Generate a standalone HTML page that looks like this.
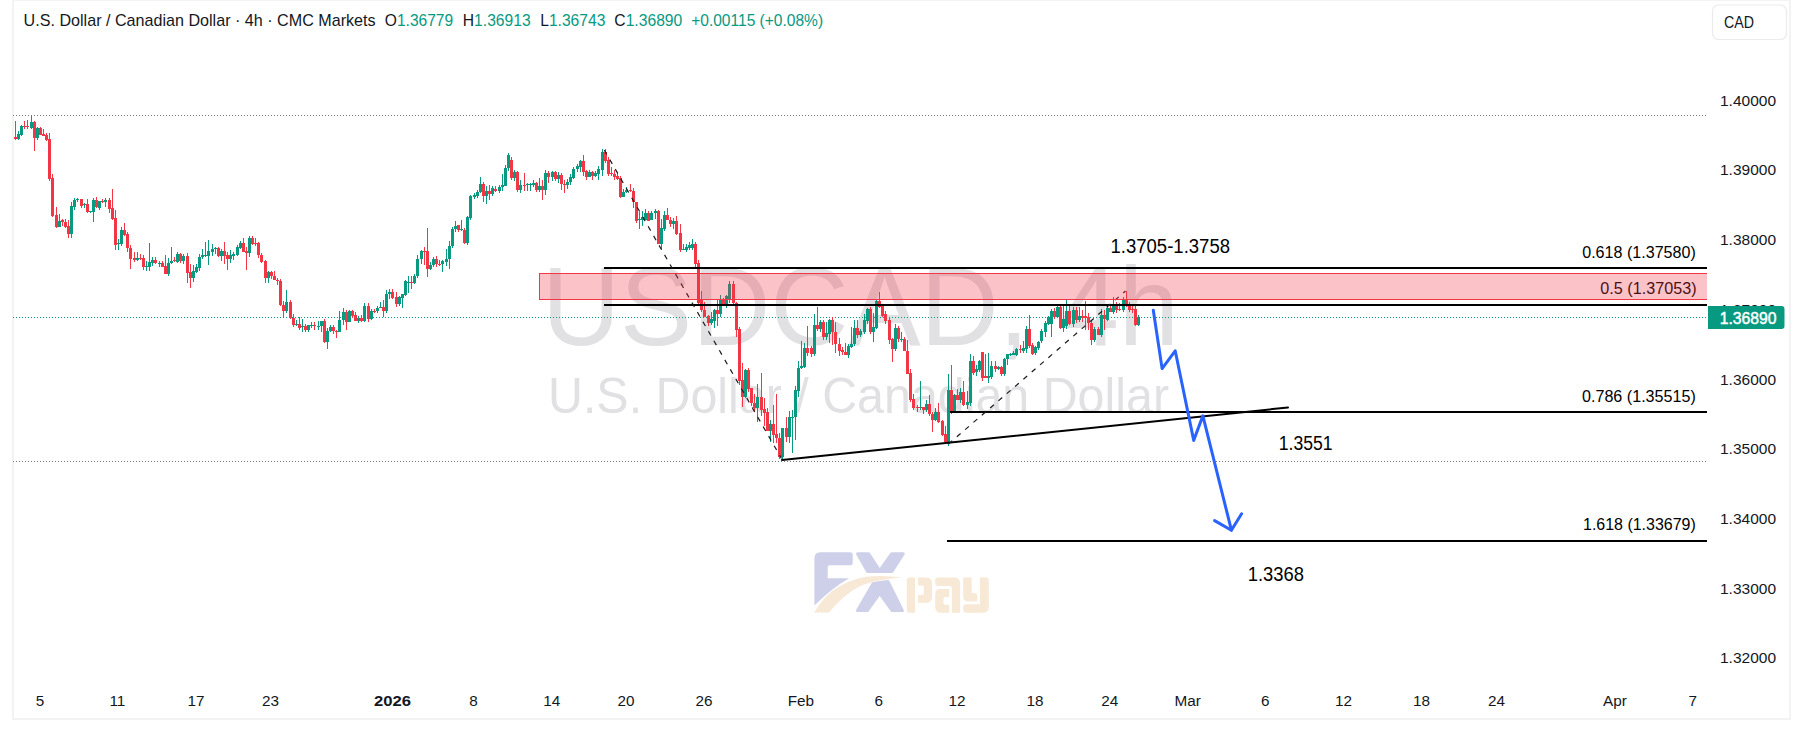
<!DOCTYPE html>
<html><head><meta charset="utf-8">
<style>
html,body{margin:0;padding:0;background:#fff;width:1803px;height:732px;overflow:hidden;}
.frame{position:absolute;left:12px;top:-1px;width:1775px;height:717px;border:2px solid #f3f3f3;}
svg{position:absolute;left:0;top:0;}
</style></head><body>
<div class="frame"></div>
<svg width="1803" height="732" viewBox="0 0 1803 732">
<g>
<path d="M814.4 605.4 V558.2 Q814.4 552.2 820.4 552.2 H850.2 Q852.7 552.2 852.7 554.7 V562.7 Q852.7 565.2 850.2 565.2 H829.7 Q827.7 565.2 827.7 567.2 V578.2 H849 Q832 588 814.4 605.4 Z" fill="#CED0EA"/>
<path d="M857.5 553.7 H868.7 L879.7 570.5 L891.7 553.7 H903.3 L891.8 571.6 Q880 571.2 867.6 571.6 Z" fill="#CED0EA" stroke="#CED0EA" stroke-width="3" stroke-linejoin="round"/>
<path d="M873 583.8 Q880 582.2 888 581.5 L902.4 610.6 H892.1 L879.7 593.3 L867.3 610.6 H857.5 Z" fill="#CED0EA" stroke="#CED0EA" stroke-width="3" stroke-linejoin="round"/>
<path d="M814.2 612.5 Q822 599 833 590.5 Q848 580 866 576.8 Q885 574.8 902 577.6 Q886 578.6 866 583.8 Q848 590 829 612.5 Z" fill="#F8E8D6"/>
<path d="M906.8 580.5 Q906.8 577.5 909.8 577.5 H915 V612.7 H909.8 Q906.8 612.7 906.8 609.7 Z" fill="#F8E8D6"/>
<path d="M918.1 577.5 H926.1 Q932.1 577.5 932.1 583.5 V596.8 Q932.1 602.8 926.1 602.8 H918.1 V594.9 H921.9 Q923.9 594.9 923.9 592.9 V587.4 Q923.9 585.4 921.9 585.4 H918.1 Z" fill="#F8E8D6"/>
<path d="M935.2 580 Q935.2 577.5 937.7 577.5 H954.1 Q960.1 577.5 960.1 583.5 V612.7 H951.9 V588.1 Q951.9 586.1 949.9 586.1 H937.7 Q935.2 586.1 935.2 583.6 Z" fill="#F8E8D6"/>
<path d="M940.2 589.1 H949.2 V597 H945.4 Q943.4 597 943.4 599 V602.8 Q943.4 604.8 945.4 604.8 H949.2 V612.7 H941.2 Q935.2 612.7 935.2 606.7 V594.1 Q935.2 589.1 940.2 589.1 Z" fill="#F8E8D6"/>
<path d="M963.2 577.5 H971.7 V593.2 H975.2 Q977.2 593.2 977.2 595.2 V601.4 H968.2 Q963.2 601.4 963.2 596.4 Z" fill="#F8E8D6"/>
<path d="M979.9 577.5 H985.8 Q988.8 577.5 988.8 580.5 V606.7 Q988.8 612.7 982.8 612.7 H966.2 Q963.2 612.7 963.2 609.7 V607.2 Q963.2 604.2 966.2 604.2 H979.9 Z" fill="#F8E8D6"/>
</g>
<g font-family="Liberation Sans, sans-serif" fill="#dcdde1">
<text x="542" y="345" font-size="112" fill="#e1e1e4" text-anchor="start" textLength="637" lengthAdjust="spacingAndGlyphs" >USDCAD, 4h</text>
<text x="548" y="413" font-size="50" fill="#e1e1e4" text-anchor="start" textLength="621" lengthAdjust="spacingAndGlyphs" >U.S. Dollar / Canadian Dollar</text>
</g>
<line x1="13" y1="115.5" x2="1706" y2="115.5" stroke="#7a7a7a" stroke-width="1" stroke-dasharray="1 2"/>
<line x1="13" y1="461.5" x2="1706" y2="461.5" stroke="#7a7a7a" stroke-width="1" stroke-dasharray="1 2"/>
<line x1="13" y1="317.5" x2="1706" y2="317.5" stroke="#089981" stroke-width="1" stroke-dasharray="1 2"/>
<g shape-rendering="auto"><rect x="15" y="121" width="1" height="19" fill="#F23645"/>
<rect x="14" y="137" width="3" height="2" fill="#F23645"/>
<rect x="18" y="131" width="1" height="9" fill="#089981"/>
<rect x="17" y="134" width="3" height="5" fill="#089981"/>
<rect x="21" y="125" width="1" height="11" fill="#089981"/>
<rect x="20" y="126" width="3" height="9" fill="#089981"/>
<rect x="24" y="121" width="1" height="8" fill="#F23645"/>
<rect x="23" y="126" width="3" height="1" fill="#F23645"/>
<rect x="27" y="120" width="1" height="9" fill="#F23645"/>
<rect x="26" y="126" width="3" height="1" fill="#F23645"/>
<rect x="31" y="116" width="1" height="13" fill="#089981"/>
<rect x="30" y="122" width="3" height="6" fill="#089981"/>
<rect x="34" y="121" width="1" height="30" fill="#F23645"/>
<rect x="33" y="122" width="3" height="16" fill="#F23645"/>
<rect x="37" y="127" width="1" height="13" fill="#089981"/>
<rect x="36" y="128" width="3" height="10" fill="#089981"/>
<rect x="40" y="127" width="1" height="8" fill="#F23645"/>
<rect x="39" y="128" width="3" height="7" fill="#F23645"/>
<rect x="43" y="129" width="1" height="7" fill="#F23645"/>
<rect x="42" y="134" width="3" height="2" fill="#F23645"/>
<rect x="46" y="133" width="1" height="8" fill="#F23645"/>
<rect x="45" y="135" width="3" height="5" fill="#F23645"/>
<rect x="49" y="133" width="1" height="48" fill="#F23645"/>
<rect x="48" y="139" width="3" height="40" fill="#F23645"/>
<rect x="52" y="174" width="1" height="43" fill="#F23645"/>
<rect x="51" y="178" width="3" height="38" fill="#F23645"/>
<rect x="56" y="207" width="1" height="21" fill="#F23645"/>
<rect x="55" y="215" width="3" height="12" fill="#F23645"/>
<rect x="59" y="214" width="1" height="13" fill="#089981"/>
<rect x="58" y="221" width="3" height="6" fill="#089981"/>
<rect x="62" y="219" width="1" height="7" fill="#F23645"/>
<rect x="61" y="220" width="3" height="2" fill="#F23645"/>
<rect x="65" y="219" width="1" height="9" fill="#F23645"/>
<rect x="64" y="222" width="3" height="5" fill="#F23645"/>
<rect x="68" y="220" width="1" height="18" fill="#F23645"/>
<rect x="67" y="226" width="3" height="8" fill="#F23645"/>
<rect x="71" y="202" width="1" height="36" fill="#089981"/>
<rect x="70" y="206" width="3" height="28" fill="#089981"/>
<rect x="74" y="198" width="1" height="12" fill="#089981"/>
<rect x="73" y="200" width="3" height="7" fill="#089981"/>
<rect x="77" y="198" width="1" height="4" fill="#089981"/>
<rect x="76" y="199" width="3" height="1" fill="#089981"/>
<rect x="81" y="199" width="1" height="9" fill="#F23645"/>
<rect x="80" y="199" width="3" height="7" fill="#F23645"/>
<rect x="84" y="203" width="1" height="5" fill="#089981"/>
<rect x="83" y="204" width="3" height="1" fill="#089981"/>
<rect x="87" y="199" width="1" height="14" fill="#F23645"/>
<rect x="86" y="204" width="3" height="8" fill="#F23645"/>
<rect x="90" y="211" width="1" height="2" fill="#089981"/>
<rect x="89" y="211" width="3" height="1" fill="#089981"/>
<rect x="93" y="198" width="1" height="24" fill="#089981"/>
<rect x="92" y="200" width="3" height="12" fill="#089981"/>
<rect x="96" y="197" width="1" height="11" fill="#F23645"/>
<rect x="95" y="200" width="3" height="7" fill="#F23645"/>
<rect x="99" y="201" width="1" height="9" fill="#089981"/>
<rect x="98" y="201" width="3" height="7" fill="#089981"/>
<rect x="102" y="199" width="1" height="4" fill="#F23645"/>
<rect x="101" y="201" width="3" height="1" fill="#F23645"/>
<rect x="105" y="198" width="1" height="9" fill="#089981"/>
<rect x="104" y="200" width="3" height="2" fill="#089981"/>
<rect x="109" y="198" width="1" height="15" fill="#F23645"/>
<rect x="108" y="200" width="3" height="9" fill="#F23645"/>
<rect x="112" y="189" width="1" height="31" fill="#F23645"/>
<rect x="111" y="208" width="3" height="11" fill="#F23645"/>
<rect x="115" y="210" width="1" height="40" fill="#F23645"/>
<rect x="114" y="218" width="3" height="27" fill="#F23645"/>
<rect x="118" y="239" width="1" height="11" fill="#089981"/>
<rect x="117" y="243" width="3" height="1" fill="#089981"/>
<rect x="121" y="227" width="1" height="19" fill="#089981"/>
<rect x="120" y="230" width="3" height="14" fill="#089981"/>
<rect x="124" y="223" width="1" height="13" fill="#F23645"/>
<rect x="123" y="230" width="3" height="5" fill="#F23645"/>
<rect x="127" y="232" width="1" height="20" fill="#F23645"/>
<rect x="126" y="234" width="3" height="14" fill="#F23645"/>
<rect x="130" y="245" width="1" height="24" fill="#F23645"/>
<rect x="129" y="248" width="3" height="11" fill="#F23645"/>
<rect x="134" y="252" width="1" height="10" fill="#F23645"/>
<rect x="133" y="258" width="3" height="2" fill="#F23645"/>
<rect x="137" y="252" width="1" height="9" fill="#089981"/>
<rect x="136" y="258" width="3" height="2" fill="#089981"/>
<rect x="140" y="254" width="1" height="6" fill="#F23645"/>
<rect x="139" y="258" width="3" height="1" fill="#F23645"/>
<rect x="143" y="255" width="1" height="15" fill="#F23645"/>
<rect x="142" y="258" width="3" height="9" fill="#F23645"/>
<rect x="146" y="261" width="1" height="10" fill="#089981"/>
<rect x="145" y="266" width="3" height="1" fill="#089981"/>
<rect x="149" y="243" width="1" height="28" fill="#089981"/>
<rect x="148" y="262" width="3" height="5" fill="#089981"/>
<rect x="152" y="257" width="1" height="9" fill="#089981"/>
<rect x="151" y="260" width="3" height="3" fill="#089981"/>
<rect x="155" y="257" width="1" height="7" fill="#F23645"/>
<rect x="154" y="260" width="3" height="3" fill="#F23645"/>
<rect x="159" y="261" width="1" height="6" fill="#089981"/>
<rect x="158" y="263" width="3" height="1" fill="#089981"/>
<rect x="162" y="261" width="1" height="6" fill="#F23645"/>
<rect x="161" y="263" width="3" height="4" fill="#F23645"/>
<rect x="165" y="255" width="1" height="19" fill="#F23645"/>
<rect x="164" y="266" width="3" height="8" fill="#F23645"/>
<rect x="168" y="258" width="1" height="18" fill="#089981"/>
<rect x="167" y="263" width="3" height="11" fill="#089981"/>
<rect x="171" y="247" width="1" height="17" fill="#089981"/>
<rect x="170" y="261" width="3" height="2" fill="#089981"/>
<rect x="174" y="257" width="1" height="5" fill="#F23645"/>
<rect x="173" y="260" width="3" height="1" fill="#F23645"/>
<rect x="177" y="252" width="1" height="11" fill="#089981"/>
<rect x="176" y="254" width="3" height="8" fill="#089981"/>
<rect x="180" y="253" width="1" height="10" fill="#F23645"/>
<rect x="179" y="254" width="3" height="7" fill="#F23645"/>
<rect x="183" y="254" width="1" height="10" fill="#089981"/>
<rect x="182" y="256" width="3" height="5" fill="#089981"/>
<rect x="187" y="253" width="1" height="30" fill="#F23645"/>
<rect x="186" y="256" width="3" height="17" fill="#F23645"/>
<rect x="190" y="264" width="1" height="24" fill="#F23645"/>
<rect x="189" y="272" width="3" height="6" fill="#F23645"/>
<rect x="193" y="265" width="1" height="17" fill="#089981"/>
<rect x="192" y="271" width="3" height="7" fill="#089981"/>
<rect x="196" y="264" width="1" height="9" fill="#089981"/>
<rect x="195" y="267" width="3" height="5" fill="#089981"/>
<rect x="199" y="254" width="1" height="17" fill="#089981"/>
<rect x="198" y="257" width="3" height="11" fill="#089981"/>
<rect x="202" y="249" width="1" height="10" fill="#089981"/>
<rect x="201" y="255" width="3" height="2" fill="#089981"/>
<rect x="205" y="242" width="1" height="15" fill="#089981"/>
<rect x="204" y="255" width="3" height="1" fill="#089981"/>
<rect x="208" y="240" width="1" height="25" fill="#089981"/>
<rect x="207" y="251" width="3" height="5" fill="#089981"/>
<rect x="212" y="244" width="1" height="12" fill="#089981"/>
<rect x="211" y="249" width="3" height="3" fill="#089981"/>
<rect x="215" y="247" width="1" height="7" fill="#089981"/>
<rect x="214" y="248" width="3" height="1" fill="#089981"/>
<rect x="218" y="247" width="1" height="10" fill="#F23645"/>
<rect x="217" y="248" width="3" height="8" fill="#F23645"/>
<rect x="221" y="249" width="1" height="12" fill="#089981"/>
<rect x="220" y="251" width="3" height="5" fill="#089981"/>
<rect x="224" y="242" width="1" height="22" fill="#F23645"/>
<rect x="223" y="251" width="3" height="5" fill="#F23645"/>
<rect x="227" y="252" width="1" height="18" fill="#F23645"/>
<rect x="226" y="255" width="3" height="4" fill="#F23645"/>
<rect x="230" y="250" width="1" height="13" fill="#089981"/>
<rect x="229" y="255" width="3" height="4" fill="#089981"/>
<rect x="233" y="252" width="1" height="8" fill="#089981"/>
<rect x="232" y="254" width="3" height="2" fill="#089981"/>
<rect x="237" y="245" width="1" height="11" fill="#089981"/>
<rect x="236" y="247" width="3" height="8" fill="#089981"/>
<rect x="240" y="241" width="1" height="8" fill="#089981"/>
<rect x="239" y="243" width="3" height="5" fill="#089981"/>
<rect x="243" y="238" width="1" height="14" fill="#F23645"/>
<rect x="242" y="243" width="3" height="9" fill="#F23645"/>
<rect x="246" y="247" width="1" height="23" fill="#F23645"/>
<rect x="245" y="251" width="3" height="2" fill="#F23645"/>
<rect x="249" y="236" width="1" height="21" fill="#089981"/>
<rect x="248" y="238" width="3" height="15" fill="#089981"/>
<rect x="252" y="236" width="1" height="9" fill="#F23645"/>
<rect x="251" y="238" width="3" height="6" fill="#F23645"/>
<rect x="255" y="238" width="1" height="8" fill="#F23645"/>
<rect x="254" y="243" width="3" height="1" fill="#F23645"/>
<rect x="258" y="242" width="1" height="16" fill="#F23645"/>
<rect x="257" y="243" width="3" height="12" fill="#F23645"/>
<rect x="261" y="253" width="1" height="10" fill="#F23645"/>
<rect x="260" y="255" width="3" height="7" fill="#F23645"/>
<rect x="265" y="260" width="1" height="23" fill="#F23645"/>
<rect x="264" y="261" width="3" height="17" fill="#F23645"/>
<rect x="268" y="271" width="1" height="12" fill="#089981"/>
<rect x="267" y="272" width="3" height="6" fill="#089981"/>
<rect x="271" y="271" width="1" height="8" fill="#F23645"/>
<rect x="270" y="272" width="3" height="4" fill="#F23645"/>
<rect x="274" y="271" width="1" height="9" fill="#F23645"/>
<rect x="273" y="276" width="3" height="4" fill="#F23645"/>
<rect x="277" y="278" width="1" height="7" fill="#F23645"/>
<rect x="276" y="280" width="3" height="1" fill="#F23645"/>
<rect x="280" y="279" width="1" height="27" fill="#F23645"/>
<rect x="279" y="281" width="3" height="24" fill="#F23645"/>
<rect x="283" y="301" width="1" height="16" fill="#F23645"/>
<rect x="282" y="305" width="3" height="6" fill="#F23645"/>
<rect x="286" y="290" width="1" height="23" fill="#089981"/>
<rect x="285" y="302" width="3" height="9" fill="#089981"/>
<rect x="290" y="300" width="1" height="19" fill="#F23645"/>
<rect x="289" y="302" width="3" height="16" fill="#F23645"/>
<rect x="293" y="314" width="1" height="13" fill="#F23645"/>
<rect x="292" y="318" width="3" height="7" fill="#F23645"/>
<rect x="296" y="320" width="1" height="6" fill="#089981"/>
<rect x="295" y="324" width="3" height="1" fill="#089981"/>
<rect x="299" y="317" width="1" height="13" fill="#F23645"/>
<rect x="298" y="324" width="3" height="4" fill="#F23645"/>
<rect x="302" y="319" width="1" height="13" fill="#089981"/>
<rect x="301" y="326" width="3" height="1" fill="#089981"/>
<rect x="305" y="324" width="1" height="8" fill="#F23645"/>
<rect x="304" y="326" width="3" height="4" fill="#F23645"/>
<rect x="308" y="325" width="1" height="7" fill="#089981"/>
<rect x="307" y="325" width="3" height="5" fill="#089981"/>
<rect x="311" y="322" width="1" height="6" fill="#089981"/>
<rect x="310" y="325" width="3" height="1" fill="#089981"/>
<rect x="314" y="322" width="1" height="8" fill="#F23645"/>
<rect x="313" y="325" width="3" height="1" fill="#F23645"/>
<rect x="318" y="321" width="1" height="9" fill="#089981"/>
<rect x="317" y="326" width="3" height="1" fill="#089981"/>
<rect x="321" y="321" width="1" height="11" fill="#089981"/>
<rect x="320" y="321" width="3" height="5" fill="#089981"/>
<rect x="324" y="319" width="1" height="24" fill="#F23645"/>
<rect x="323" y="321" width="3" height="21" fill="#F23645"/>
<rect x="327" y="328" width="1" height="21" fill="#089981"/>
<rect x="326" y="331" width="3" height="11" fill="#089981"/>
<rect x="330" y="325" width="1" height="7" fill="#089981"/>
<rect x="329" y="327" width="3" height="4" fill="#089981"/>
<rect x="333" y="325" width="1" height="9" fill="#F23645"/>
<rect x="332" y="327" width="3" height="4" fill="#F23645"/>
<rect x="336" y="330" width="1" height="8" fill="#F23645"/>
<rect x="335" y="331" width="3" height="1" fill="#F23645"/>
<rect x="339" y="311" width="1" height="21" fill="#089981"/>
<rect x="338" y="320" width="3" height="12" fill="#089981"/>
<rect x="343" y="308" width="1" height="17" fill="#089981"/>
<rect x="342" y="312" width="3" height="8" fill="#089981"/>
<rect x="346" y="310" width="1" height="20" fill="#F23645"/>
<rect x="345" y="312" width="3" height="10" fill="#F23645"/>
<rect x="349" y="310" width="1" height="12" fill="#089981"/>
<rect x="348" y="311" width="3" height="11" fill="#089981"/>
<rect x="352" y="310" width="1" height="8" fill="#F23645"/>
<rect x="351" y="311" width="3" height="5" fill="#F23645"/>
<rect x="355" y="312" width="1" height="9" fill="#F23645"/>
<rect x="354" y="315" width="3" height="6" fill="#F23645"/>
<rect x="358" y="316" width="1" height="7" fill="#089981"/>
<rect x="357" y="318" width="3" height="3" fill="#089981"/>
<rect x="361" y="315" width="1" height="7" fill="#F23645"/>
<rect x="360" y="318" width="3" height="3" fill="#F23645"/>
<rect x="364" y="303" width="1" height="19" fill="#089981"/>
<rect x="363" y="306" width="3" height="15" fill="#089981"/>
<rect x="368" y="303" width="1" height="19" fill="#F23645"/>
<rect x="367" y="306" width="3" height="13" fill="#F23645"/>
<rect x="371" y="309" width="1" height="11" fill="#089981"/>
<rect x="370" y="311" width="3" height="8" fill="#089981"/>
<rect x="374" y="309" width="1" height="4" fill="#F23645"/>
<rect x="373" y="311" width="3" height="1" fill="#F23645"/>
<rect x="377" y="306" width="1" height="7" fill="#089981"/>
<rect x="376" y="308" width="3" height="3" fill="#089981"/>
<rect x="380" y="302" width="1" height="6" fill="#089981"/>
<rect x="379" y="307" width="3" height="1" fill="#089981"/>
<rect x="383" y="300" width="1" height="17" fill="#F23645"/>
<rect x="382" y="307" width="3" height="4" fill="#F23645"/>
<rect x="386" y="290" width="1" height="23" fill="#089981"/>
<rect x="385" y="294" width="3" height="17" fill="#089981"/>
<rect x="389" y="289" width="1" height="10" fill="#089981"/>
<rect x="388" y="292" width="3" height="2" fill="#089981"/>
<rect x="392" y="289" width="1" height="10" fill="#F23645"/>
<rect x="391" y="292" width="3" height="6" fill="#F23645"/>
<rect x="396" y="292" width="1" height="15" fill="#F23645"/>
<rect x="395" y="297" width="3" height="7" fill="#F23645"/>
<rect x="399" y="296" width="1" height="10" fill="#089981"/>
<rect x="398" y="297" width="3" height="7" fill="#089981"/>
<rect x="402" y="294" width="1" height="14" fill="#089981"/>
<rect x="401" y="294" width="3" height="4" fill="#089981"/>
<rect x="405" y="280" width="1" height="16" fill="#089981"/>
<rect x="404" y="281" width="3" height="14" fill="#089981"/>
<rect x="408" y="276" width="1" height="17" fill="#089981"/>
<rect x="407" y="282" width="3" height="1" fill="#089981"/>
<rect x="411" y="276" width="1" height="13" fill="#F23645"/>
<rect x="410" y="282" width="3" height="1" fill="#F23645"/>
<rect x="414" y="274" width="1" height="10" fill="#089981"/>
<rect x="413" y="276" width="3" height="7" fill="#089981"/>
<rect x="417" y="255" width="1" height="23" fill="#089981"/>
<rect x="416" y="259" width="3" height="17" fill="#089981"/>
<rect x="421" y="250" width="1" height="14" fill="#089981"/>
<rect x="420" y="251" width="3" height="8" fill="#089981"/>
<rect x="424" y="247" width="1" height="18" fill="#F23645"/>
<rect x="423" y="251" width="3" height="1" fill="#F23645"/>
<rect x="427" y="228" width="1" height="49" fill="#F23645"/>
<rect x="426" y="251" width="3" height="18" fill="#F23645"/>
<rect x="430" y="262" width="1" height="8" fill="#089981"/>
<rect x="429" y="265" width="3" height="4" fill="#089981"/>
<rect x="433" y="257" width="1" height="10" fill="#089981"/>
<rect x="432" y="259" width="3" height="6" fill="#089981"/>
<rect x="436" y="256" width="1" height="11" fill="#F23645"/>
<rect x="435" y="259" width="3" height="5" fill="#F23645"/>
<rect x="439" y="260" width="1" height="6" fill="#F23645"/>
<rect x="438" y="264" width="3" height="1" fill="#F23645"/>
<rect x="442" y="260" width="1" height="12" fill="#089981"/>
<rect x="441" y="261" width="3" height="3" fill="#089981"/>
<rect x="446" y="249" width="1" height="17" fill="#089981"/>
<rect x="445" y="259" width="3" height="3" fill="#089981"/>
<rect x="449" y="241" width="1" height="28" fill="#089981"/>
<rect x="448" y="246" width="3" height="13" fill="#089981"/>
<rect x="452" y="227" width="1" height="21" fill="#089981"/>
<rect x="451" y="229" width="3" height="17" fill="#089981"/>
<rect x="455" y="221" width="1" height="11" fill="#089981"/>
<rect x="454" y="226" width="3" height="3" fill="#089981"/>
<rect x="458" y="225" width="1" height="7" fill="#F23645"/>
<rect x="457" y="225" width="3" height="5" fill="#F23645"/>
<rect x="461" y="220" width="1" height="11" fill="#089981"/>
<rect x="460" y="229" width="3" height="1" fill="#089981"/>
<rect x="464" y="228" width="1" height="16" fill="#F23645"/>
<rect x="463" y="230" width="3" height="13" fill="#F23645"/>
<rect x="467" y="216" width="1" height="29" fill="#089981"/>
<rect x="466" y="217" width="3" height="26" fill="#089981"/>
<rect x="470" y="195" width="1" height="25" fill="#089981"/>
<rect x="469" y="196" width="3" height="22" fill="#089981"/>
<rect x="474" y="193" width="1" height="6" fill="#089981"/>
<rect x="473" y="195" width="3" height="2" fill="#089981"/>
<rect x="477" y="190" width="1" height="8" fill="#089981"/>
<rect x="476" y="192" width="3" height="4" fill="#089981"/>
<rect x="480" y="177" width="1" height="16" fill="#089981"/>
<rect x="479" y="184" width="3" height="8" fill="#089981"/>
<rect x="483" y="182" width="1" height="20" fill="#F23645"/>
<rect x="482" y="184" width="3" height="12" fill="#F23645"/>
<rect x="486" y="186" width="1" height="18" fill="#089981"/>
<rect x="485" y="191" width="3" height="5" fill="#089981"/>
<rect x="489" y="185" width="1" height="15" fill="#F23645"/>
<rect x="488" y="191" width="3" height="3" fill="#F23645"/>
<rect x="492" y="186" width="1" height="10" fill="#089981"/>
<rect x="491" y="188" width="3" height="6" fill="#089981"/>
<rect x="495" y="186" width="1" height="6" fill="#F23645"/>
<rect x="494" y="189" width="3" height="2" fill="#F23645"/>
<rect x="499" y="185" width="1" height="8" fill="#089981"/>
<rect x="498" y="187" width="3" height="4" fill="#089981"/>
<rect x="502" y="174" width="1" height="17" fill="#089981"/>
<rect x="501" y="185" width="3" height="2" fill="#089981"/>
<rect x="505" y="165" width="1" height="21" fill="#089981"/>
<rect x="504" y="168" width="3" height="18" fill="#089981"/>
<rect x="508" y="153" width="1" height="18" fill="#089981"/>
<rect x="507" y="155" width="3" height="13" fill="#089981"/>
<rect x="511" y="157" width="1" height="23" fill="#F23645"/>
<rect x="510" y="160" width="3" height="18" fill="#F23645"/>
<rect x="514" y="170" width="1" height="11" fill="#089981"/>
<rect x="513" y="172" width="3" height="6" fill="#089981"/>
<rect x="517" y="171" width="1" height="21" fill="#F23645"/>
<rect x="516" y="172" width="3" height="18" fill="#F23645"/>
<rect x="520" y="180" width="1" height="13" fill="#089981"/>
<rect x="519" y="185" width="3" height="5" fill="#089981"/>
<rect x="524" y="173" width="1" height="18" fill="#F23645"/>
<rect x="523" y="185" width="3" height="1" fill="#F23645"/>
<rect x="527" y="183" width="1" height="8" fill="#089981"/>
<rect x="526" y="184" width="3" height="1" fill="#089981"/>
<rect x="530" y="183" width="1" height="8" fill="#089981"/>
<rect x="529" y="184" width="3" height="1" fill="#089981"/>
<rect x="533" y="180" width="1" height="7" fill="#089981"/>
<rect x="532" y="183" width="3" height="2" fill="#089981"/>
<rect x="536" y="182" width="1" height="10" fill="#F23645"/>
<rect x="535" y="183" width="3" height="7" fill="#F23645"/>
<rect x="539" y="178" width="1" height="14" fill="#089981"/>
<rect x="538" y="186" width="3" height="4" fill="#089981"/>
<rect x="542" y="180" width="1" height="20" fill="#F23645"/>
<rect x="541" y="186" width="3" height="4" fill="#F23645"/>
<rect x="545" y="170" width="1" height="25" fill="#089981"/>
<rect x="544" y="173" width="3" height="17" fill="#089981"/>
<rect x="548" y="171" width="1" height="12" fill="#F23645"/>
<rect x="547" y="173" width="3" height="4" fill="#F23645"/>
<rect x="552" y="171" width="1" height="10" fill="#089981"/>
<rect x="551" y="172" width="3" height="5" fill="#089981"/>
<rect x="555" y="171" width="1" height="10" fill="#F23645"/>
<rect x="554" y="172" width="3" height="7" fill="#F23645"/>
<rect x="558" y="172" width="1" height="11" fill="#089981"/>
<rect x="557" y="175" width="3" height="4" fill="#089981"/>
<rect x="561" y="173" width="1" height="17" fill="#F23645"/>
<rect x="560" y="175" width="3" height="9" fill="#F23645"/>
<rect x="564" y="180" width="1" height="13" fill="#F23645"/>
<rect x="563" y="184" width="3" height="1" fill="#F23645"/>
<rect x="567" y="179" width="1" height="10" fill="#089981"/>
<rect x="566" y="182" width="3" height="3" fill="#089981"/>
<rect x="570" y="174" width="1" height="11" fill="#089981"/>
<rect x="569" y="177" width="3" height="5" fill="#089981"/>
<rect x="573" y="167" width="1" height="12" fill="#089981"/>
<rect x="572" y="169" width="3" height="9" fill="#089981"/>
<rect x="577" y="164" width="1" height="8" fill="#089981"/>
<rect x="576" y="166" width="3" height="3" fill="#089981"/>
<rect x="580" y="160" width="1" height="12" fill="#089981"/>
<rect x="579" y="161" width="3" height="6" fill="#089981"/>
<rect x="583" y="155" width="1" height="21" fill="#F23645"/>
<rect x="582" y="161" width="3" height="11" fill="#F23645"/>
<rect x="586" y="170" width="1" height="10" fill="#F23645"/>
<rect x="585" y="171" width="3" height="6" fill="#F23645"/>
<rect x="589" y="170" width="1" height="7" fill="#089981"/>
<rect x="588" y="172" width="3" height="5" fill="#089981"/>
<rect x="592" y="171" width="1" height="9" fill="#F23645"/>
<rect x="591" y="172" width="3" height="4" fill="#F23645"/>
<rect x="595" y="171" width="1" height="6" fill="#089981"/>
<rect x="594" y="173" width="3" height="3" fill="#089981"/>
<rect x="598" y="166" width="1" height="14" fill="#089981"/>
<rect x="597" y="169" width="3" height="5" fill="#089981"/>
<rect x="602" y="149" width="1" height="27" fill="#089981"/>
<rect x="601" y="152" width="3" height="18" fill="#089981"/>
<rect x="605" y="149" width="1" height="14" fill="#F23645"/>
<rect x="604" y="152" width="3" height="9" fill="#F23645"/>
<rect x="608" y="157" width="1" height="19" fill="#F23645"/>
<rect x="607" y="160" width="3" height="14" fill="#F23645"/>
<rect x="611" y="167" width="1" height="9" fill="#F23645"/>
<rect x="610" y="173" width="3" height="1" fill="#F23645"/>
<rect x="614" y="170" width="1" height="10" fill="#F23645"/>
<rect x="613" y="174" width="3" height="3" fill="#F23645"/>
<rect x="617" y="172" width="1" height="8" fill="#F23645"/>
<rect x="616" y="176" width="3" height="3" fill="#F23645"/>
<rect x="620" y="176" width="1" height="22" fill="#F23645"/>
<rect x="619" y="178" width="3" height="19" fill="#F23645"/>
<rect x="623" y="189" width="1" height="8" fill="#089981"/>
<rect x="622" y="192" width="3" height="5" fill="#089981"/>
<rect x="626" y="187" width="1" height="6" fill="#089981"/>
<rect x="625" y="190" width="3" height="2" fill="#089981"/>
<rect x="630" y="184" width="1" height="8" fill="#F23645"/>
<rect x="629" y="190" width="3" height="1" fill="#F23645"/>
<rect x="633" y="188" width="1" height="20" fill="#F23645"/>
<rect x="632" y="191" width="3" height="11" fill="#F23645"/>
<rect x="636" y="202" width="1" height="21" fill="#F23645"/>
<rect x="635" y="202" width="3" height="19" fill="#F23645"/>
<rect x="639" y="212" width="1" height="17" fill="#089981"/>
<rect x="638" y="219" width="3" height="1" fill="#089981"/>
<rect x="642" y="211" width="1" height="15" fill="#089981"/>
<rect x="641" y="217" width="3" height="3" fill="#089981"/>
<rect x="645" y="209" width="1" height="11" fill="#089981"/>
<rect x="644" y="213" width="3" height="7" fill="#089981"/>
<rect x="648" y="211" width="1" height="10" fill="#F23645"/>
<rect x="647" y="213" width="3" height="8" fill="#F23645"/>
<rect x="651" y="211" width="1" height="9" fill="#089981"/>
<rect x="650" y="213" width="3" height="7" fill="#089981"/>
<rect x="655" y="209" width="1" height="10" fill="#089981"/>
<rect x="654" y="211" width="3" height="2" fill="#089981"/>
<rect x="658" y="210" width="1" height="34" fill="#F23645"/>
<rect x="657" y="211" width="3" height="33" fill="#F23645"/>
<rect x="661" y="219" width="1" height="30" fill="#089981"/>
<rect x="660" y="228" width="3" height="16" fill="#089981"/>
<rect x="664" y="211" width="1" height="20" fill="#089981"/>
<rect x="663" y="215" width="3" height="14" fill="#089981"/>
<rect x="667" y="208" width="1" height="12" fill="#F23645"/>
<rect x="666" y="215" width="3" height="5" fill="#F23645"/>
<rect x="670" y="217" width="1" height="10" fill="#F23645"/>
<rect x="669" y="220" width="3" height="4" fill="#F23645"/>
<rect x="673" y="218" width="1" height="11" fill="#089981"/>
<rect x="672" y="221" width="3" height="3" fill="#089981"/>
<rect x="676" y="216" width="1" height="19" fill="#F23645"/>
<rect x="675" y="221" width="3" height="13" fill="#F23645"/>
<rect x="680" y="224" width="1" height="28" fill="#F23645"/>
<rect x="679" y="233" width="3" height="17" fill="#F23645"/>
<rect x="683" y="244" width="1" height="6" fill="#089981"/>
<rect x="682" y="249" width="3" height="1" fill="#089981"/>
<rect x="686" y="244" width="1" height="8" fill="#089981"/>
<rect x="685" y="247" width="3" height="3" fill="#089981"/>
<rect x="689" y="242" width="1" height="8" fill="#089981"/>
<rect x="688" y="245" width="3" height="3" fill="#089981"/>
<rect x="692" y="239" width="1" height="11" fill="#089981"/>
<rect x="691" y="244" width="3" height="4" fill="#089981"/>
<rect x="695" y="242" width="1" height="26" fill="#F23645"/>
<rect x="694" y="244" width="3" height="20" fill="#F23645"/>
<rect x="698" y="260" width="1" height="45" fill="#F23645"/>
<rect x="697" y="263" width="3" height="40" fill="#F23645"/>
<rect x="701" y="291" width="1" height="21" fill="#F23645"/>
<rect x="700" y="300" width="3" height="10" fill="#F23645"/>
<rect x="704" y="302" width="1" height="15" fill="#F23645"/>
<rect x="703" y="310" width="3" height="7" fill="#F23645"/>
<rect x="708" y="315" width="1" height="11" fill="#F23645"/>
<rect x="707" y="316" width="3" height="7" fill="#F23645"/>
<rect x="711" y="312" width="1" height="13" fill="#089981"/>
<rect x="710" y="319" width="3" height="4" fill="#089981"/>
<rect x="714" y="309" width="1" height="19" fill="#089981"/>
<rect x="713" y="310" width="3" height="11" fill="#089981"/>
<rect x="717" y="300" width="1" height="26" fill="#F23645"/>
<rect x="716" y="310" width="3" height="4" fill="#F23645"/>
<rect x="720" y="295" width="1" height="22" fill="#089981"/>
<rect x="719" y="300" width="3" height="14" fill="#089981"/>
<rect x="723" y="298" width="1" height="6" fill="#F23645"/>
<rect x="722" y="299" width="3" height="5" fill="#F23645"/>
<rect x="726" y="295" width="1" height="13" fill="#089981"/>
<rect x="725" y="296" width="3" height="9" fill="#089981"/>
<rect x="729" y="281" width="1" height="22" fill="#089981"/>
<rect x="728" y="284" width="3" height="16" fill="#089981"/>
<rect x="733" y="281" width="1" height="23" fill="#F23645"/>
<rect x="732" y="284" width="3" height="19" fill="#F23645"/>
<rect x="736" y="302" width="1" height="35" fill="#F23645"/>
<rect x="735" y="303" width="3" height="27" fill="#F23645"/>
<rect x="739" y="327" width="1" height="58" fill="#F23645"/>
<rect x="738" y="329" width="3" height="52" fill="#F23645"/>
<rect x="742" y="363" width="1" height="44" fill="#F23645"/>
<rect x="741" y="380" width="3" height="17" fill="#F23645"/>
<rect x="745" y="369" width="1" height="29" fill="#089981"/>
<rect x="744" y="370" width="3" height="27" fill="#089981"/>
<rect x="748" y="368" width="1" height="24" fill="#F23645"/>
<rect x="747" y="370" width="3" height="19" fill="#F23645"/>
<rect x="751" y="388" width="1" height="18" fill="#F23645"/>
<rect x="750" y="388" width="3" height="15" fill="#F23645"/>
<rect x="754" y="394" width="1" height="18" fill="#F23645"/>
<rect x="753" y="403" width="3" height="5" fill="#F23645"/>
<rect x="757" y="384" width="1" height="38" fill="#089981"/>
<rect x="756" y="397" width="3" height="11" fill="#089981"/>
<rect x="761" y="373" width="1" height="43" fill="#F23645"/>
<rect x="760" y="397" width="3" height="13" fill="#F23645"/>
<rect x="764" y="398" width="1" height="28" fill="#F23645"/>
<rect x="763" y="409" width="3" height="4" fill="#F23645"/>
<rect x="767" y="408" width="1" height="23" fill="#F23645"/>
<rect x="766" y="412" width="3" height="19" fill="#F23645"/>
<rect x="770" y="420" width="1" height="22" fill="#089981"/>
<rect x="769" y="424" width="3" height="7" fill="#089981"/>
<rect x="773" y="405" width="1" height="38" fill="#F23645"/>
<rect x="772" y="424" width="3" height="11" fill="#F23645"/>
<rect x="776" y="394" width="1" height="49" fill="#F23645"/>
<rect x="775" y="434" width="3" height="4" fill="#F23645"/>
<rect x="779" y="433" width="1" height="26" fill="#F23645"/>
<rect x="778" y="438" width="3" height="19" fill="#F23645"/>
<rect x="782" y="428" width="1" height="32" fill="#089981"/>
<rect x="781" y="428" width="3" height="29" fill="#089981"/>
<rect x="786" y="417" width="1" height="25" fill="#F23645"/>
<rect x="785" y="428" width="3" height="9" fill="#F23645"/>
<rect x="789" y="411" width="1" height="32" fill="#089981"/>
<rect x="788" y="417" width="3" height="20" fill="#089981"/>
<rect x="792" y="410" width="1" height="43" fill="#089981"/>
<rect x="791" y="417" width="3" height="1" fill="#089981"/>
<rect x="795" y="386" width="1" height="54" fill="#089981"/>
<rect x="794" y="390" width="3" height="27" fill="#089981"/>
<rect x="798" y="361" width="1" height="36" fill="#089981"/>
<rect x="797" y="368" width="3" height="23" fill="#089981"/>
<rect x="801" y="341" width="1" height="28" fill="#089981"/>
<rect x="800" y="366" width="3" height="2" fill="#089981"/>
<rect x="804" y="343" width="1" height="25" fill="#089981"/>
<rect x="803" y="348" width="3" height="19" fill="#089981"/>
<rect x="807" y="326" width="1" height="30" fill="#F23645"/>
<rect x="806" y="348" width="3" height="5" fill="#F23645"/>
<rect x="811" y="346" width="1" height="11" fill="#F23645"/>
<rect x="810" y="348" width="3" height="6" fill="#F23645"/>
<rect x="814" y="314" width="1" height="42" fill="#089981"/>
<rect x="813" y="325" width="3" height="29" fill="#089981"/>
<rect x="817" y="307" width="1" height="24" fill="#F23645"/>
<rect x="816" y="325" width="3" height="4" fill="#F23645"/>
<rect x="820" y="320" width="1" height="12" fill="#089981"/>
<rect x="819" y="322" width="3" height="7" fill="#089981"/>
<rect x="823" y="320" width="1" height="20" fill="#F23645"/>
<rect x="822" y="322" width="3" height="15" fill="#F23645"/>
<rect x="826" y="322" width="1" height="18" fill="#089981"/>
<rect x="825" y="333" width="3" height="4" fill="#089981"/>
<rect x="829" y="319" width="1" height="24" fill="#089981"/>
<rect x="828" y="320" width="3" height="14" fill="#089981"/>
<rect x="832" y="317" width="1" height="28" fill="#F23645"/>
<rect x="831" y="320" width="3" height="12" fill="#F23645"/>
<rect x="835" y="322" width="1" height="31" fill="#F23645"/>
<rect x="834" y="332" width="3" height="12" fill="#F23645"/>
<rect x="839" y="338" width="1" height="18" fill="#F23645"/>
<rect x="838" y="344" width="3" height="7" fill="#F23645"/>
<rect x="842" y="347" width="1" height="8" fill="#F23645"/>
<rect x="841" y="350" width="3" height="2" fill="#F23645"/>
<rect x="845" y="343" width="1" height="12" fill="#F23645"/>
<rect x="844" y="352" width="3" height="3" fill="#F23645"/>
<rect x="848" y="344" width="1" height="14" fill="#089981"/>
<rect x="847" y="346" width="3" height="9" fill="#089981"/>
<rect x="851" y="327" width="1" height="21" fill="#089981"/>
<rect x="850" y="344" width="3" height="3" fill="#089981"/>
<rect x="854" y="320" width="1" height="26" fill="#089981"/>
<rect x="853" y="328" width="3" height="16" fill="#089981"/>
<rect x="857" y="320" width="1" height="18" fill="#F23645"/>
<rect x="856" y="328" width="3" height="7" fill="#F23645"/>
<rect x="860" y="329" width="1" height="8" fill="#089981"/>
<rect x="859" y="331" width="3" height="4" fill="#089981"/>
<rect x="864" y="314" width="1" height="20" fill="#089981"/>
<rect x="863" y="320" width="3" height="12" fill="#089981"/>
<rect x="867" y="308" width="1" height="16" fill="#089981"/>
<rect x="866" y="309" width="3" height="12" fill="#089981"/>
<rect x="870" y="307" width="1" height="27" fill="#F23645"/>
<rect x="869" y="309" width="3" height="23" fill="#F23645"/>
<rect x="873" y="313" width="1" height="29" fill="#089981"/>
<rect x="872" y="327" width="3" height="5" fill="#089981"/>
<rect x="876" y="300" width="1" height="29" fill="#089981"/>
<rect x="875" y="301" width="3" height="27" fill="#089981"/>
<rect x="879" y="292" width="1" height="16" fill="#F23645"/>
<rect x="878" y="301" width="3" height="6" fill="#F23645"/>
<rect x="882" y="305" width="1" height="12" fill="#F23645"/>
<rect x="881" y="306" width="3" height="10" fill="#F23645"/>
<rect x="885" y="311" width="1" height="13" fill="#F23645"/>
<rect x="884" y="314" width="3" height="7" fill="#F23645"/>
<rect x="889" y="318" width="1" height="26" fill="#F23645"/>
<rect x="888" y="320" width="3" height="20" fill="#F23645"/>
<rect x="892" y="338" width="1" height="24" fill="#F23645"/>
<rect x="891" y="339" width="3" height="10" fill="#F23645"/>
<rect x="895" y="324" width="1" height="27" fill="#089981"/>
<rect x="894" y="328" width="3" height="21" fill="#089981"/>
<rect x="898" y="326" width="1" height="16" fill="#F23645"/>
<rect x="897" y="328" width="3" height="11" fill="#F23645"/>
<rect x="901" y="332" width="1" height="10" fill="#089981"/>
<rect x="900" y="339" width="3" height="1" fill="#089981"/>
<rect x="904" y="337" width="1" height="14" fill="#F23645"/>
<rect x="903" y="339" width="3" height="12" fill="#F23645"/>
<rect x="907" y="340" width="1" height="34" fill="#F23645"/>
<rect x="906" y="351" width="3" height="23" fill="#F23645"/>
<rect x="910" y="369" width="1" height="33" fill="#F23645"/>
<rect x="909" y="373" width="3" height="27" fill="#F23645"/>
<rect x="913" y="394" width="1" height="16" fill="#F23645"/>
<rect x="912" y="399" width="3" height="9" fill="#F23645"/>
<rect x="917" y="405" width="1" height="7" fill="#F23645"/>
<rect x="916" y="407" width="3" height="1" fill="#F23645"/>
<rect x="920" y="381" width="1" height="29" fill="#089981"/>
<rect x="919" y="407" width="3" height="1" fill="#089981"/>
<rect x="923" y="407" width="1" height="7" fill="#F23645"/>
<rect x="922" y="407" width="3" height="3" fill="#F23645"/>
<rect x="926" y="400" width="1" height="12" fill="#089981"/>
<rect x="925" y="404" width="3" height="6" fill="#089981"/>
<rect x="929" y="395" width="1" height="21" fill="#F23645"/>
<rect x="928" y="404" width="3" height="10" fill="#F23645"/>
<rect x="932" y="412" width="1" height="20" fill="#F23645"/>
<rect x="931" y="414" width="3" height="6" fill="#F23645"/>
<rect x="935" y="408" width="1" height="13" fill="#089981"/>
<rect x="934" y="412" width="3" height="8" fill="#089981"/>
<rect x="938" y="403" width="1" height="20" fill="#F23645"/>
<rect x="937" y="412" width="3" height="10" fill="#F23645"/>
<rect x="942" y="420" width="1" height="16" fill="#F23645"/>
<rect x="941" y="421" width="3" height="14" fill="#F23645"/>
<rect x="945" y="426" width="1" height="18" fill="#F23645"/>
<rect x="944" y="434" width="3" height="8" fill="#F23645"/>
<rect x="948" y="374" width="1" height="72" fill="#089981"/>
<rect x="947" y="390" width="3" height="54" fill="#089981"/>
<rect x="951" y="365" width="1" height="49" fill="#F23645"/>
<rect x="950" y="390" width="3" height="22" fill="#F23645"/>
<rect x="954" y="394" width="1" height="18" fill="#089981"/>
<rect x="953" y="395" width="3" height="17" fill="#089981"/>
<rect x="957" y="389" width="1" height="11" fill="#F23645"/>
<rect x="956" y="395" width="3" height="5" fill="#F23645"/>
<rect x="960" y="388" width="1" height="15" fill="#089981"/>
<rect x="959" y="392" width="3" height="8" fill="#089981"/>
<rect x="963" y="381" width="1" height="25" fill="#F23645"/>
<rect x="962" y="392" width="3" height="13" fill="#F23645"/>
<rect x="967" y="391" width="1" height="18" fill="#089981"/>
<rect x="966" y="402" width="3" height="3" fill="#089981"/>
<rect x="970" y="354" width="1" height="52" fill="#089981"/>
<rect x="969" y="361" width="3" height="42" fill="#089981"/>
<rect x="973" y="356" width="1" height="19" fill="#F23645"/>
<rect x="972" y="361" width="3" height="12" fill="#F23645"/>
<rect x="976" y="365" width="1" height="11" fill="#089981"/>
<rect x="975" y="369" width="3" height="3" fill="#089981"/>
<rect x="979" y="360" width="1" height="12" fill="#089981"/>
<rect x="978" y="361" width="3" height="9" fill="#089981"/>
<rect x="982" y="352" width="1" height="29" fill="#F23645"/>
<rect x="981" y="352" width="3" height="26" fill="#F23645"/>
<rect x="985" y="354" width="1" height="24" fill="#F23645"/>
<rect x="984" y="376" width="3" height="2" fill="#F23645"/>
<rect x="988" y="353" width="1" height="30" fill="#089981"/>
<rect x="987" y="376" width="3" height="2" fill="#089981"/>
<rect x="991" y="361" width="1" height="18" fill="#089981"/>
<rect x="990" y="366" width="3" height="11" fill="#089981"/>
<rect x="995" y="361" width="1" height="11" fill="#F23645"/>
<rect x="994" y="366" width="3" height="3" fill="#F23645"/>
<rect x="998" y="366" width="1" height="4" fill="#089981"/>
<rect x="997" y="367" width="3" height="2" fill="#089981"/>
<rect x="1001" y="366" width="1" height="10" fill="#F23645"/>
<rect x="1000" y="367" width="3" height="7" fill="#F23645"/>
<rect x="1004" y="358" width="1" height="18" fill="#089981"/>
<rect x="1003" y="359" width="3" height="15" fill="#089981"/>
<rect x="1007" y="354" width="1" height="11" fill="#089981"/>
<rect x="1006" y="354" width="3" height="5" fill="#089981"/>
<rect x="1010" y="353" width="1" height="3" fill="#089981"/>
<rect x="1009" y="354" width="3" height="1" fill="#089981"/>
<rect x="1013" y="351" width="1" height="4" fill="#089981"/>
<rect x="1012" y="353" width="3" height="2" fill="#089981"/>
<rect x="1016" y="348" width="1" height="8" fill="#089981"/>
<rect x="1015" y="349" width="3" height="6" fill="#089981"/>
<rect x="1020" y="345" width="1" height="8" fill="#F23645"/>
<rect x="1019" y="349" width="3" height="1" fill="#F23645"/>
<rect x="1023" y="341" width="1" height="12" fill="#089981"/>
<rect x="1022" y="348" width="3" height="3" fill="#089981"/>
<rect x="1026" y="326" width="1" height="27" fill="#089981"/>
<rect x="1025" y="329" width="3" height="20" fill="#089981"/>
<rect x="1029" y="315" width="1" height="33" fill="#F23645"/>
<rect x="1028" y="329" width="3" height="17" fill="#F23645"/>
<rect x="1032" y="343" width="1" height="12" fill="#F23645"/>
<rect x="1031" y="345" width="3" height="9" fill="#F23645"/>
<rect x="1035" y="346" width="1" height="9" fill="#089981"/>
<rect x="1034" y="347" width="3" height="6" fill="#089981"/>
<rect x="1038" y="341" width="1" height="9" fill="#089981"/>
<rect x="1037" y="342" width="3" height="6" fill="#089981"/>
<rect x="1041" y="329" width="1" height="14" fill="#089981"/>
<rect x="1040" y="331" width="3" height="10" fill="#089981"/>
<rect x="1045" y="321" width="1" height="16" fill="#089981"/>
<rect x="1044" y="323" width="3" height="9" fill="#089981"/>
<rect x="1048" y="316" width="1" height="9" fill="#089981"/>
<rect x="1047" y="317" width="3" height="7" fill="#089981"/>
<rect x="1051" y="309" width="1" height="28" fill="#089981"/>
<rect x="1050" y="311" width="3" height="13" fill="#089981"/>
<rect x="1054" y="308" width="1" height="11" fill="#F23645"/>
<rect x="1053" y="311" width="3" height="6" fill="#F23645"/>
<rect x="1057" y="306" width="1" height="12" fill="#089981"/>
<rect x="1056" y="307" width="3" height="10" fill="#089981"/>
<rect x="1060" y="304" width="1" height="25" fill="#F23645"/>
<rect x="1059" y="307" width="3" height="21" fill="#F23645"/>
<rect x="1063" y="304" width="1" height="28" fill="#089981"/>
<rect x="1062" y="319" width="3" height="9" fill="#089981"/>
<rect x="1066" y="299" width="1" height="30" fill="#089981"/>
<rect x="1065" y="311" width="3" height="15" fill="#089981"/>
<rect x="1069" y="304" width="1" height="21" fill="#F23645"/>
<rect x="1068" y="311" width="3" height="13" fill="#F23645"/>
<rect x="1073" y="307" width="1" height="20" fill="#089981"/>
<rect x="1072" y="310" width="3" height="14" fill="#089981"/>
<rect x="1076" y="307" width="1" height="16" fill="#F23645"/>
<rect x="1075" y="310" width="3" height="10" fill="#F23645"/>
<rect x="1079" y="307" width="1" height="15" fill="#089981"/>
<rect x="1078" y="316" width="3" height="4" fill="#089981"/>
<rect x="1082" y="310" width="1" height="12" fill="#F23645"/>
<rect x="1081" y="316" width="3" height="2" fill="#F23645"/>
<rect x="1085" y="301" width="1" height="29" fill="#F23645"/>
<rect x="1084" y="316" width="3" height="2" fill="#F23645"/>
<rect x="1088" y="313" width="1" height="17" fill="#F23645"/>
<rect x="1087" y="317" width="3" height="6" fill="#F23645"/>
<rect x="1091" y="321" width="1" height="24" fill="#F23645"/>
<rect x="1090" y="323" width="3" height="17" fill="#F23645"/>
<rect x="1094" y="327" width="1" height="15" fill="#089981"/>
<rect x="1093" y="329" width="3" height="11" fill="#089981"/>
<rect x="1098" y="327" width="1" height="8" fill="#F23645"/>
<rect x="1097" y="329" width="3" height="6" fill="#F23645"/>
<rect x="1101" y="309" width="1" height="28" fill="#089981"/>
<rect x="1100" y="315" width="3" height="20" fill="#089981"/>
<rect x="1104" y="310" width="1" height="20" fill="#F23645"/>
<rect x="1103" y="315" width="3" height="4" fill="#F23645"/>
<rect x="1107" y="305" width="1" height="16" fill="#089981"/>
<rect x="1106" y="308" width="3" height="12" fill="#089981"/>
<rect x="1110" y="306" width="1" height="6" fill="#F23645"/>
<rect x="1109" y="308" width="3" height="4" fill="#F23645"/>
<rect x="1113" y="297" width="1" height="17" fill="#089981"/>
<rect x="1112" y="304" width="3" height="8" fill="#089981"/>
<rect x="1116" y="302" width="1" height="11" fill="#F23645"/>
<rect x="1115" y="304" width="3" height="6" fill="#F23645"/>
<rect x="1119" y="303" width="1" height="8" fill="#F23645"/>
<rect x="1118" y="309" width="3" height="1" fill="#F23645"/>
<rect x="1123" y="297" width="1" height="15" fill="#089981"/>
<rect x="1122" y="299" width="3" height="11" fill="#089981"/>
<rect x="1126" y="291" width="1" height="16" fill="#F23645"/>
<rect x="1125" y="299" width="3" height="6" fill="#F23645"/>
<rect x="1129" y="302" width="1" height="10" fill="#F23645"/>
<rect x="1128" y="305" width="3" height="5" fill="#F23645"/>
<rect x="1132" y="305" width="1" height="8" fill="#F23645"/>
<rect x="1131" y="309" width="3" height="1" fill="#F23645"/>
<rect x="1135" y="306" width="1" height="20" fill="#F23645"/>
<rect x="1134" y="309" width="3" height="16" fill="#F23645"/>
<rect x="1138" y="315" width="1" height="11" fill="#089981"/>
<rect x="1137" y="317" width="3" height="8" fill="#089981"/></g>
<g font-family="Liberation Sans, sans-serif">
<rect x="604" y="267" width="1103" height="2" fill="#000"/>
<rect x="604" y="304" width="1103" height="2" fill="#000"/>
<rect x="950" y="411" width="757" height="2" fill="#000"/>
<rect x="947" y="540" width="760" height="2" fill="#000"/>
<text x="1582.2" y="257.6" font-size="15.6" fill="#000" text-anchor="start" textLength="113.6" lengthAdjust="spacingAndGlyphs" >0.618 (1.37580)</text>
<text x="1600.3" y="293.7" font-size="15.6" fill="#000" text-anchor="start" textLength="96.3" lengthAdjust="spacingAndGlyphs" >0.5 (1.37053)</text>
<text x="1582" y="402.1" font-size="15.6" fill="#000" text-anchor="start" textLength="113.8" lengthAdjust="spacingAndGlyphs" >0.786 (1.35515)</text>
<text x="1583" y="530.1" font-size="15.6" fill="#000" text-anchor="start" textLength="112.8" lengthAdjust="spacingAndGlyphs" >1.618 (1.33679)</text>
</g>
<line x1="782" y1="460" x2="1288" y2="407.5" stroke="#000" stroke-width="2" stroke-linecap="round"/>
<line x1="604.3" y1="150" x2="781.5" y2="458.5" stroke="#1a1a1a" stroke-width="1.2" stroke-dasharray="5 6"/>
<line x1="948.5" y1="444" x2="1125.5" y2="291" stroke="#1a1a1a" stroke-width="1.2" stroke-dasharray="5 6"/>
<defs><clipPath id="ca"><rect x="0" y="0" width="1707" height="732"/></clipPath></defs><rect clip-path="url(#ca)" x="539.5" y="273.5" width="1200" height="26" fill="rgba(242,54,69,0.3)" stroke="#F23645" stroke-width="1"/>
<g font-family="Liberation Sans, sans-serif" fill="#000">
<text x="1110.5" y="253" font-size="20" fill="#000" text-anchor="start" textLength="119.5" lengthAdjust="spacingAndGlyphs" >1.3705-1.3758</text>
<text x="1278.8" y="450" font-size="20" fill="#000" text-anchor="start" textLength="53.8" lengthAdjust="spacingAndGlyphs" >1.3551</text>
<text x="1247.8" y="581.1" font-size="20" fill="#000" text-anchor="start" textLength="56.2" lengthAdjust="spacingAndGlyphs" >1.3368</text>
</g>
<polyline points="1153.3,310.2 1162.1,368.6 1175.2,350.8 1193.7,440.4 1202.9,415.8 1231.4,530.2" fill="none" stroke="#2962FF" stroke-width="3" stroke-linecap="round" stroke-linejoin="round"/>
<polyline points="1214.6,520.6 1231.4,530.2 1241.6,513.8" fill="none" stroke="#2962FF" stroke-width="3" stroke-linecap="round" stroke-linejoin="round"/>
<g font-family="Liberation Sans, sans-serif"><text x="1776" y="105.8" font-size="15.4" fill="#131722" text-anchor="end" textLength="56" lengthAdjust="spacingAndGlyphs" >1.40000</text><text x="1776" y="175.49" font-size="15.4" fill="#131722" text-anchor="end" textLength="56" lengthAdjust="spacingAndGlyphs" >1.39000</text><text x="1776" y="245.18" font-size="15.4" fill="#131722" text-anchor="end" textLength="56" lengthAdjust="spacingAndGlyphs" >1.38000</text><text x="1776" y="314.87" font-size="15.4" fill="#131722" text-anchor="end" textLength="56" lengthAdjust="spacingAndGlyphs" >1.37000</text><text x="1776" y="384.56" font-size="15.4" fill="#131722" text-anchor="end" textLength="56" lengthAdjust="spacingAndGlyphs" >1.36000</text><text x="1776" y="454.25" font-size="15.4" fill="#131722" text-anchor="end" textLength="56" lengthAdjust="spacingAndGlyphs" >1.35000</text><text x="1776" y="523.9399999999999" font-size="15.4" fill="#131722" text-anchor="end" textLength="56" lengthAdjust="spacingAndGlyphs" >1.34000</text><text x="1776" y="593.6299999999999" font-size="15.4" fill="#131722" text-anchor="end" textLength="56" lengthAdjust="spacingAndGlyphs" >1.33000</text><text x="1776" y="663.3199999999999" font-size="15.4" fill="#131722" text-anchor="end" textLength="56" lengthAdjust="spacingAndGlyphs" >1.32000</text></g>
<path d="M1708 306 H1781.5 Q1784.5 306 1784.5 309 V326 Q1784.5 329 1781.5 329 H1708 Z" fill="#089981"/>
<g font-family="Liberation Sans, sans-serif"><text x="1776.5" y="324" font-size="16" fill="#fff" text-anchor="end" textLength="56.8" lengthAdjust="spacingAndGlyphs" stroke="#fff" stroke-width="0.45">1.36890</text></g>
<g font-family="Liberation Sans, sans-serif"><text x="40.0" y="705.8" font-size="15.3" fill="#131722" text-anchor="middle" >5</text><text x="117.4" y="705.8" font-size="15.3" fill="#131722" text-anchor="middle" >11</text><text x="196.1" y="705.8" font-size="15.3" fill="#131722" text-anchor="middle" >17</text><text x="270.6" y="705.8" font-size="15.3" fill="#131722" text-anchor="middle" >23</text><text x="392.6" y="705.8" font-size="15.3" fill="#131722" text-anchor="middle" textLength="37" lengthAdjust="spacingAndGlyphs" font-weight="bold" >2026</text><text x="473.5" y="705.8" font-size="15.3" fill="#131722" text-anchor="middle" >8</text><text x="551.7" y="705.8" font-size="15.3" fill="#131722" text-anchor="middle" >14</text><text x="626" y="705.8" font-size="15.3" fill="#131722" text-anchor="middle" >20</text><text x="704.0" y="705.8" font-size="15.3" fill="#131722" text-anchor="middle" >26</text><text x="800.9" y="705.8" font-size="15.3" fill="#131722" text-anchor="middle" >Feb</text><text x="878.7" y="705.8" font-size="15.3" fill="#131722" text-anchor="middle" >6</text><text x="957.1" y="705.8" font-size="15.3" fill="#131722" text-anchor="middle" >12</text><text x="1035.0" y="705.8" font-size="15.3" fill="#131722" text-anchor="middle" >18</text><text x="1109.7" y="705.8" font-size="15.3" fill="#131722" text-anchor="middle" >24</text><text x="1187.7" y="705.8" font-size="15.3" fill="#131722" text-anchor="middle" >Mar</text><text x="1265.3" y="705.8" font-size="15.3" fill="#131722" text-anchor="middle" >6</text><text x="1343.5" y="705.8" font-size="15.3" fill="#131722" text-anchor="middle" >12</text><text x="1421.5" y="705.8" font-size="15.3" fill="#131722" text-anchor="middle" >18</text><text x="1496.4" y="705.8" font-size="15.3" fill="#131722" text-anchor="middle" >24</text><text x="1615.0" y="705.8" font-size="15.3" fill="#131722" text-anchor="middle" >Apr</text><text x="1692.7" y="705.8" font-size="15.3" fill="#131722" text-anchor="middle" >7</text></g>
<text font-family="Liberation Sans, sans-serif" x="23.6" y="26.1" font-size="16.2" fill="#131722" textLength="352" lengthAdjust="spacingAndGlyphs">U.S. Dollar / Canadian Dollar · 4h · CMC Markets</text>
<text font-family="Liberation Sans, sans-serif" x="384.8" y="26.1" font-size="16.2" fill="#131722" textLength="68.39999999999999" lengthAdjust="spacingAndGlyphs">O<tspan fill="#089981">1.36779</tspan></text>
<text font-family="Liberation Sans, sans-serif" x="462.8" y="26.1" font-size="16.2" fill="#131722" textLength="67.8" lengthAdjust="spacingAndGlyphs">H<tspan fill="#089981">1.36913</tspan></text>
<text font-family="Liberation Sans, sans-serif" x="540.2" y="26.1" font-size="16.2" fill="#131722" textLength="65.2" lengthAdjust="spacingAndGlyphs">L<tspan fill="#089981">1.36743</tspan></text>
<text font-family="Liberation Sans, sans-serif" x="614.3000000000001" y="26.1" font-size="16.2" fill="#131722" textLength="68.0" lengthAdjust="spacingAndGlyphs">C<tspan fill="#089981">1.36890</tspan></text>
<text font-family="Liberation Sans, sans-serif" x="691.2" y="26.1" font-size="16.2" fill="#089981" textLength="131.9" lengthAdjust="spacingAndGlyphs">+0.00115 (+0.08%)</text>
<rect x="1712.5" y="5" width="74" height="34.5" rx="6" fill="#fff" stroke="#ebebeb" stroke-width="1.2"/>
<text font-family="Liberation Sans, sans-serif" x="1724" y="28" font-size="16.3" fill="#131722" textLength="30" lengthAdjust="spacingAndGlyphs">CAD</text>
</svg>
</body></html>
